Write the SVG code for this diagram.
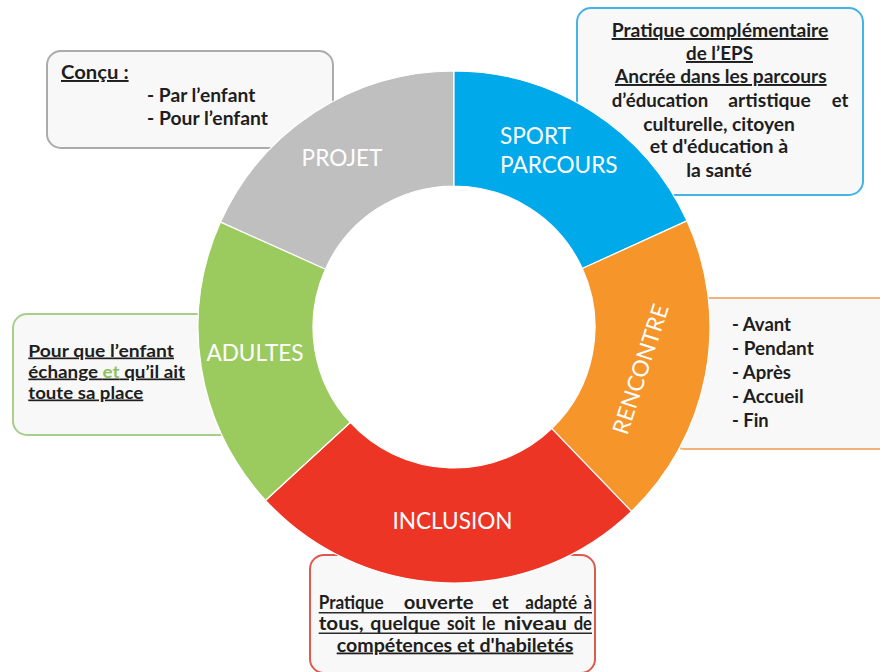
<svg xmlns="http://www.w3.org/2000/svg" width="880" height="672" viewBox="0 0 880 672">
<style>
.box{fill:#f8f8f8;stroke-width:2}
.t{font-family:Lato,"Open Sans","Liberation Sans",sans-serif;font-weight:bold;fill:#1e1e1e}
.u{text-decoration:underline}
.lab{font-family:Lato,"Open Sans","Liberation Sans",sans-serif;font-size:22.6px;fill:#ffffff}
.seg{stroke:#ffffff;stroke-width:1.2}
.ul{stroke:#2a2a2a;stroke-width:1.4}
</style>
<rect width="880" height="672" fill="#ffffff"/>
<g id="box-projet">
<rect class="box" x="47" y="51" width="286" height="97" rx="14" stroke="#ababab"/>
<g font-size="19.5">
<text class="t u" x="61" y="79" textLength="67.6" lengthAdjust="spacingAndGlyphs">Conçu :</text>
<text class="t" x="147" y="102" textLength="108.3" lengthAdjust="spacingAndGlyphs">- Par l’enfant</text>
<text class="t" x="147" y="125" textLength="121" lengthAdjust="spacingAndGlyphs">- Pour l’enfant</text>
</g>
</g>
<g id="box-sport">
<rect class="box" x="577" y="8" width="286" height="187" rx="14" stroke="#45b3e3"/>
<g font-size="19.5" text-anchor="middle">
<text class="t u" x="720" y="37" textLength="216.7" lengthAdjust="spacingAndGlyphs">Pratique complémentaire</text>
<text class="t u" x="719.5" y="60" textLength="67" lengthAdjust="spacingAndGlyphs">de l’EPS</text>
<text class="t u" x="720.8" y="83" textLength="211.7" lengthAdjust="spacingAndGlyphs">Ancrée dans les parcours</text>
<text class="t" x="719" y="131" textLength="151.7" lengthAdjust="spacingAndGlyphs">culturelle, citoyen</text>
<text class="t" x="719" y="153.3" textLength="138.3" lengthAdjust="spacingAndGlyphs">et d'éducation à</text>
<text class="t" x="719" y="176.7" textLength="65.7" lengthAdjust="spacingAndGlyphs">la santé</text>
</g>
<text class="t" y="107" font-size="19.5"><tspan x="611.7" textLength="96.6" lengthAdjust="spacingAndGlyphs">d’éducation</tspan><tspan x="728.3" textLength="82.4" lengthAdjust="spacingAndGlyphs">artistique</tspan><tspan x="831.7" textLength="16.6" lengthAdjust="spacingAndGlyphs">et</tspan></text>
</g>
<g id="box-rencontre">
<rect class="box" x="670" y="298" width="240" height="151" rx="14" stroke="#f2b27a"/>
<g font-size="19">
<text class="t" x="732" y="331" textLength="59" lengthAdjust="spacingAndGlyphs">- Avant</text>
<text class="t" x="732" y="355" textLength="81.7" lengthAdjust="spacingAndGlyphs">- Pendant</text>
<text class="t" x="732" y="378.5" textLength="59" lengthAdjust="spacingAndGlyphs">- Après</text>
<text class="t" x="732" y="402.5" textLength="71.7" lengthAdjust="spacingAndGlyphs">- Accueil</text>
<text class="t" x="732" y="426.5" textLength="36.7" lengthAdjust="spacingAndGlyphs">- Fin</text>
</g>
</g>
<g id="box-adultes">
<rect class="box" x="13" y="314" width="230" height="121" rx="14" stroke="#a8cf8a"/>
<g font-size="17">
<text class="t u" x="28.3" y="356.5" textLength="145.7" lengthAdjust="spacingAndGlyphs">Pour que l’enfant</text>
<text class="t u" x="28.3" y="377.5" textLength="156.7" lengthAdjust="spacingAndGlyphs">échange <tspan fill="#8cc063">et</tspan> qu’il ait</text>
<text class="t u" x="28.3" y="398.5" textLength="115" lengthAdjust="spacingAndGlyphs">toute sa place</text>
</g>
</g>
<g id="box-inclusion">
<rect class="box" x="310" y="555" width="285" height="118" rx="14" stroke="#dd5a50"/>
<g font-size="18">
<text class="t" y="609"><tspan x="318.7" textLength="65" lengthAdjust="spacingAndGlyphs">Pratique</tspan><tspan x="403.7" textLength="70" lengthAdjust="spacingAndGlyphs">ouverte</tspan><tspan x="492" textLength="16.7" lengthAdjust="spacingAndGlyphs">et</tspan><tspan x="525.3" textLength="51.7" lengthAdjust="spacingAndGlyphs">adapté</tspan><tspan x="583.7" textLength="8.3" lengthAdjust="spacingAndGlyphs">à</tspan></text>
<text class="t" y="629.5"><tspan x="318.7" textLength="45" lengthAdjust="spacingAndGlyphs">tous,</tspan><tspan x="370.3" textLength="70" lengthAdjust="spacingAndGlyphs">quelque</tspan><tspan x="447" textLength="28.3" lengthAdjust="spacingAndGlyphs">soit</tspan><tspan x="482" textLength="13.3" lengthAdjust="spacingAndGlyphs">le</tspan><tspan x="503.7" textLength="63.3" lengthAdjust="spacingAndGlyphs">niveau</tspan><tspan x="573.7" textLength="18.3" lengthAdjust="spacingAndGlyphs">de</tspan></text>
<text class="t u" x="455" y="651.5" text-anchor="middle" textLength="236.6" lengthAdjust="spacingAndGlyphs">compétences et d'habiletés</text>
</g>
<line class="ul" x1="318.7" y1="612.8" x2="592" y2="612.8"/>
<line class="ul" x1="318.7" y1="633.3" x2="592" y2="633.3"/>
</g>
<g id="ring">
<g id="seg-projet"><path class="seg" fill="#bfbfbf" d="M220.5,222.1 A256,256 0 0 1 454,71 L454,186 A141,141 0 0 0 325.4,269.2 Z"/>
<text class="lab" x="342" y="166" text-anchor="middle" fill="#f2f2f2">PROJET</text></g>
<g id="seg-sport"><path class="seg" fill="#00a9ea" d="M454,71 A256,256 0 0 1 686.96,220.84 L582.31,268.53 A141,141 0 0 0 454,186 Z"/>
<text class="lab" x="500" y="144">SPORT</text>
<text class="lab" x="500" y="172.6">PARCOURS</text></g>
<g id="seg-rencontre"><path class="seg" fill="#f6952a" d="M686.96,220.84 A256,256 0 0 1 631.51,511.47 L551.77,428.6 A141,141 0 0 0 582.31,268.53 Z"/>
<text class="lab" text-anchor="middle" dominant-baseline="central" transform="translate(640,369) rotate(-72)">RENCONTRE</text></g>
<g id="seg-inclusion"><path class="seg" fill="#ed3526" d="M631.51,511.47 A256,256 0 0 1 265.56,500.29 L350.21,422.44 A141,141 0 0 0 551.77,428.6 Z"/>
<text class="lab" x="452.5" y="529" text-anchor="middle">INCLUSION</text></g>
<g id="seg-adultes"><path class="seg" fill="#9bcb5f" d="M265.56,500.29 A256,256 0 0 1 220.5,222.1 L325.4,269.2 A141,141 0 0 0 350.21,422.44 Z"/>
<text class="lab" x="255" y="361" text-anchor="middle">ADULTES</text></g>
</g>
</svg>
